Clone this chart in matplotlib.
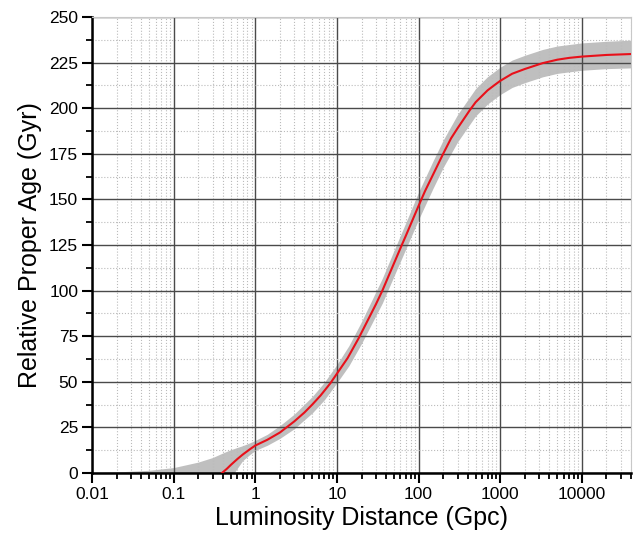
import matplotlib
matplotlib.use("Agg")
from matplotlib import pyplot as plt
from matplotlib.ticker import LogLocator, FixedLocator, MultipleLocator, FixedFormatter

plt.rcParams['font.family'] = ['Liberation Sans', 'DejaVu Sans']

# red curve
curveX = [0.39, 0.45, 0.5, 0.6, 0.7, 0.85, 1, 1.4, 2, 3, 4, 5, 6.3, 8.3, 10, 13.5,
          18.5, 30, 36, 50, 63, 70, 100, 120, 150, 200, 250, 300, 425, 500, 700,
          840, 1000, 1400, 2000, 3300, 5000, 7000, 10000, 20000, 40000]
curveY = [0, 2.4, 4.4, 7.6, 10.1, 12.9, 15.1, 18.2, 22.2, 28.3, 33.2, 37.6, 42.5, 49.2,
          54.5, 63, 74, 92.5, 100, 115, 125.5, 130.2, 146.5, 154.6, 163.5, 175, 183.5,
          189, 199, 203.3, 209.8, 212.5, 215, 218.9, 221.5, 224.7, 226.6, 227.6, 228.3,
          229.2, 229.7]

# grey band edges
bandX = [0.01, 0.02, 0.05, 0.1, 0.2, 0.3, 0.4, 0.5, 0.55, 0.6, 0.7, 0.85, 1, 1.4, 2, 3,
         5, 7, 10, 14, 20, 36, 50, 70, 100, 150, 200, 300, 500, 700, 1000, 1400, 2000,
         3300, 5000, 10000, 20000, 40000]
bandUp = [0.2, 0.6, 1.5, 3, 6, 8.5, 11, 12.8, 13.4, 14, 15, 16.5, 17.9, 21.2, 26, 32.3,
          42, 49.7, 59.5, 69.8, 83, 106.8, 122, 137.4, 154, 171, 182.5, 196.5, 210.8,
          217.3, 222.5, 226.4, 229, 232.2, 234.1, 235.8, 236.7, 237.3]
bandLo = [0, 0, 0, 0, 0, 0, 0, 0, 0, 2.5, 6.8, 10, 12.4, 15.2, 19, 24.3,
          33, 40.1, 49.5, 58.8, 71, 93.2, 108, 123, 139, 156, 167.5, 181.5, 195.8,
          202.3, 207.5, 211.4, 214, 217.2, 219.1, 220.8, 221.7, 222.1]

xticks = [0.01, 0.1, 1, 10, 100, 1000, 10000]
xlabels = ["0.01", "0.1", "1", "10", "100", "1000", "10000"]


def plot_data(name):
    fig = plt.figure(figsize=(6.39, 5.40), dpi=100)
    ax = fig.add_axes([0.144, 0.124, 0.8435, 0.8445])
    ax.fill_between(bandX, bandLo, bandUp, color="#bfbfbf", linewidth=0, zorder=1)
    ax.plot(curveX, curveY, color="#e8101a", linewidth=1.5, zorder=3)

    ax.set_xscale("log")
    ax.set_xlim(0.01, 40000)
    ax.set_ylim(0, 250)
    ax.xaxis.set_major_locator(FixedLocator(xticks))
    ax.xaxis.set_major_formatter(FixedFormatter(xlabels))
    ax.xaxis.set_minor_locator(LogLocator(base=10, subs=range(2, 10), numticks=20))
    ax.yaxis.set_major_locator(MultipleLocator(25))
    ax.yaxis.set_minor_locator(MultipleLocator(12.5))

    ax.grid(which="major", color="#4a4a4a", linewidth=1.0, zorder=2)
    ax.grid(which="minor", color="#bbbbbb", linestyle=":", linewidth=0.8, zorder=2)

    for s in ["left", "bottom"]:
        ax.spines[s].set_linewidth(1.8)
        ax.spines[s].set_color("black")
    for s in ["top", "right"]:
        ax.spines[s].set_linewidth(0.8)
        ax.spines[s].set_color("#c8c8c8")

    ax.tick_params(which="major", direction="out", length=7, width=1.5,
                   labelsize=12.5, top=False, right=False, pad=3)
    ax.tick_params(which="minor", direction="out", length=4, width=1.3,
                   top=False, right=False)
    ax.tick_params(axis="x", which="minor", labelbottom=False)

    ax.set_xlabel("Luminosity Distance (Gpc)", fontsize=18, labelpad=3)
    ax.set_ylabel("Relative Proper Age (Gyr)", fontsize=18, labelpad=5)
    fig.savefig(name, dpi=100)


plot_data("out.png")
